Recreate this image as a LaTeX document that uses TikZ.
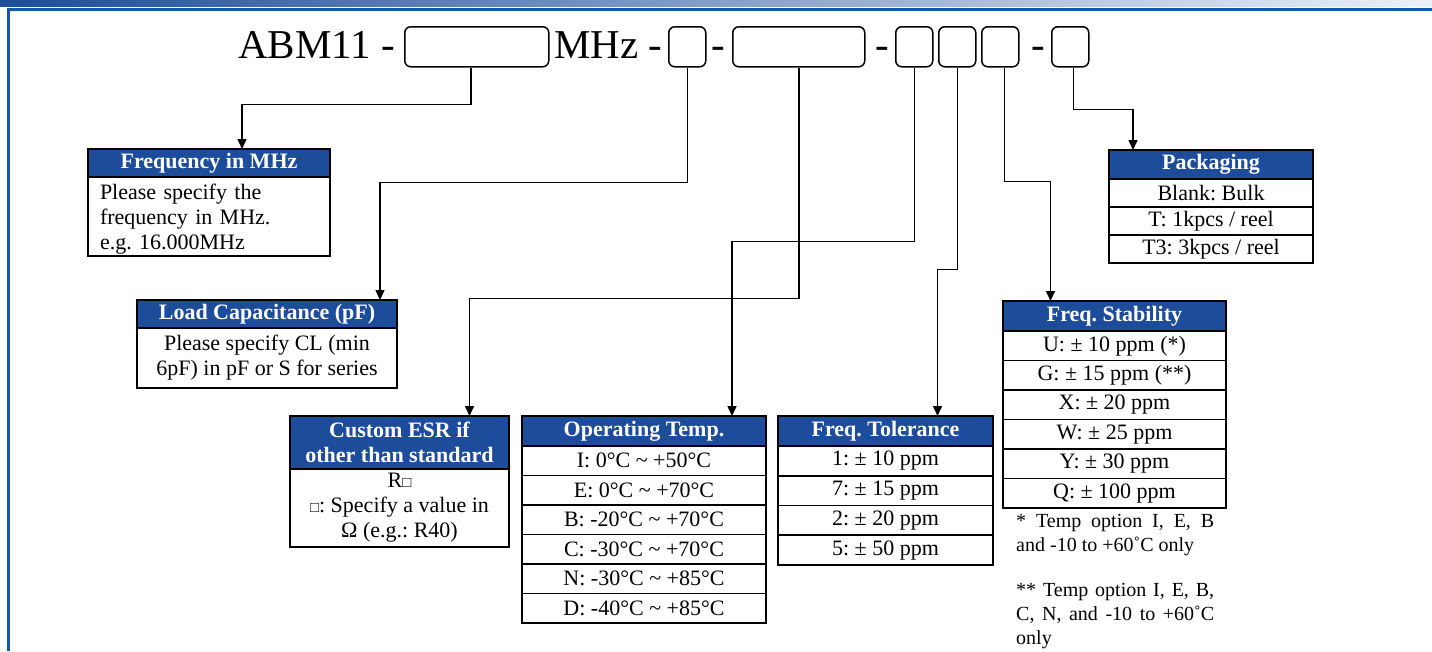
\documentclass[tikz,border=0pt]{standalone}
\usepackage{fontspec}
\setmainfont{Liberation Serif}
\usetikzlibrary{arrows.meta}
\definecolor{hdblue}{RGB}{29,76,154}
\definecolor{ruleblue}{RGB}{22,88,168}
\definecolor{barmid}{RGB}{100,140,198}
\definecolor{barlight}{RGB}{236,241,248}
\newcommand\bodyfnt{\fontsize{22}{25}\selectfont}
\newcommand\hdfnt{\fontsize{22}{25}\selectfont\bfseries}
\newcommand\notefnt{\fontsize{20}{24}\selectfont}
\newcommand\titlefnt{\fontsize{41}{48}\selectfont}
\newcommand\smallbox{{\fontsize{15}{15}\selectfont □}}
\frenchspacing

\begin{document}
\begin{tikzpicture}[x=1pt,y=-1pt,
  codebox/.style={draw,line width=1.5pt,rounded corners=6pt,minimum height=40pt,inner sep=0pt,anchor=north west},
  partnum/.style={font=\titlefnt,inner sep=0pt},
  head/.style={draw,line width=1.8pt,fill=hdblue,text=white,font=\hdfnt,inner sep=0pt,outer sep=0pt,align=center,anchor=north west},
  cell/.style={draw,line width=1.8pt,font=\bodyfnt,inner sep=0pt,outer sep=0pt,align=center,anchor=north west},
  link/.style={line width=1.5pt,-{Triangle[length=10pt,width=9pt]}}]
\useasboundingbox (0,0) rectangle (1432,651);

% Frame
\shade[left color=hdblue,middle color=barmid,right color=barlight] (0,0) rectangle (1432,6.5);
\fill[ruleblue] (7,8) rectangle (1432,11);
\fill[ruleblue] (7,8) rectangle (10,651);

% Part number
\node[partnum,anchor=base west] (abm) at (238,58) {ABM11 -};
\node[codebox,minimum width=144pt] (b1) at (404,26) {};
\node[partnum,anchor=base west] (mhz) at (554,58) {MHz -};
\node[codebox,minimum width=37pt] (b2) at (668,26) {};
\node[partnum,anchor=base] (d1) at (718,58) {-};
\node[codebox,minimum width=132pt] (b3) at (732,26) {};
\node[partnum,anchor=base] (d2) at (882,58) {-};
\node[codebox,minimum width=37pt] (b4) at (895,26) {};
\node[codebox,minimum width=37pt] (b5) at (938,26) {};
\node[codebox,minimum width=37pt] (b6) at (981,26) {};
\node[partnum,anchor=base] (d3) at (1038,58) {-};
\node[codebox,minimum width=37pt] (b7) at (1051,26) {};

% Frequency
\node[head,minimum width=242pt,minimum height=28pt] (fqhd) at (88,149) {Frequency in MHz};
\node[cell,minimum width=242pt,minimum height=79pt,align=left,text width=218pt] (fqbd) at (fqhd.south west) {\rule{0pt}{20pt}Please specify the\\frequency in MHz.\\e.g. 16.000MHz};

% Load capacitance
\node[head,minimum width=260pt,minimum height=28pt] (ldhd) at (137,300) {Load Capacitance (pF)};
\node[cell,minimum width=260pt,minimum height=60pt] (ldbd) at (ldhd.south west) {Please specify CL (min\\6pF) in pF or S for series};

% ESR
\node[head,minimum width=219pt,minimum height=53pt] (esrhd) at (290,416) {Custom ESR if\\other than standard};
\node[cell,minimum width=219pt,minimum height=78pt] (esrbd) at (esrhd.south west) {R\smallbox\\\smallbox: Specify a value in\\Ω (e.g.: R40)};

% Operating temperature
\node[head,minimum width=244pt,minimum height=30pt] (ophd) at (522,416) {Operating Temp.};
\node[cell,minimum width=244pt,minimum height=29.5pt] (op1) at (ophd.south west) {I: 0°C \textasciitilde\ +50°C};
\node[cell,minimum width=244pt,minimum height=29.5pt] (op2) at (op1.south west) {E: 0°C \textasciitilde\ +70°C};
\node[cell,minimum width=244pt,minimum height=29.5pt] (op3) at (op2.south west) {B: -20°C \textasciitilde\ +70°C};
\node[cell,minimum width=244pt,minimum height=29.5pt] (op4) at (op3.south west) {C: -30°C \textasciitilde\ +70°C};
\node[cell,minimum width=244pt,minimum height=29.5pt] (op5) at (op4.south west) {N: -30°C \textasciitilde\ +85°C};
\node[cell,minimum width=244pt,minimum height=29.5pt] (op6) at (op5.south west) {D: -40°C \textasciitilde\ +85°C};

% Frequency tolerance
\node[head,minimum width=215pt,minimum height=30pt] (tolhd) at (778,416) {Freq. Tolerance};
\node[cell,minimum width=215pt,minimum height=29.75pt] (tol1) at (tolhd.south west) {1: ± 10 ppm};
\node[cell,minimum width=215pt,minimum height=29.75pt] (tol2) at (tol1.south west) {7: ± 15 ppm};
\node[cell,minimum width=215pt,minimum height=29.75pt] (tol3) at (tol2.south west) {2: ± 20 ppm};
\node[cell,minimum width=215pt,minimum height=29.75pt] (tol4) at (tol3.south west) {5: ± 50 ppm};

% Frequency stability
\node[head,minimum width=223pt,minimum height=30pt] (stbhd) at (1003,301) {Freq. Stability};
\node[cell,minimum width=223pt,minimum height=29.5pt] (stb1) at (stbhd.south west) {U: ± 10 ppm (*)};
\node[cell,minimum width=223pt,minimum height=29.5pt] (stb2) at (stb1.south west) {G: ± 15 ppm (**)};
\node[cell,minimum width=223pt,minimum height=29.5pt] (stb3) at (stb2.south west) {X: ± 20 ppm};
\node[cell,minimum width=223pt,minimum height=29.5pt] (stb4) at (stb3.south west) {W: ± 25 ppm};
\node[cell,minimum width=223pt,minimum height=29.5pt] (stb5) at (stb4.south west) {Y: ± 30 ppm};
\node[cell,minimum width=223pt,minimum height=29.5pt] (stb6) at (stb5.south west) {Q: ± 100 ppm};
\node[font=\notefnt,text width=198pt,align=justify,inner sep=0pt,anchor=north west] (note1) at (1016,514) {* Temp option I, E, B\linebreak and -10 to +60˚C only};
\node[font=\notefnt,text width=198pt,align=justify,inner sep=0pt,anchor=north west] (note2) at (1016,583) {** Temp option I, E, B,\linebreak C, N, and -10 to +60˚C\linebreak only};

% Packaging
\node[head,minimum width=204pt,minimum height=29pt] (pkhd) at (1109,150) {Packaging};
\node[cell,minimum width=204pt,minimum height=28pt] (pk1) at (pkhd.south west) {Blank: Bulk};
\node[cell,minimum width=204pt,minimum height=28pt] (pk2) at (pk1.south west) {T: 1kpcs / reel};
\node[cell,minimum width=204pt,minimum height=28pt] (pk3) at (pk2.south west) {T3: 3kpcs / reel};

% Connectors
\draw[link] ([xshift=-6pt]b1.south) -- ++(0,37) -| ([xshift=33pt]fqhd.north);
\draw[link] (b2.south) -- ++(0,115) -| ([xshift=113pt]ldhd.north);
\draw[link] (b3.south) -- ++(0,231) -| ([xshift=70pt]esrhd.north);
\draw[link] (b4.south) -- ++(0,174) -| ([xshift=88pt]ophd.north);
\draw[link] (b5.south) -- ++(0,202) -| ([xshift=52pt]tolhd.north);
\draw[link] ([xshift=4pt]b6.south) -- ++(0,114) -| ([xshift=-64pt]stbhd.north);
\draw[link] ([xshift=3pt]b7.south) -- ++(0,42) -| ([xshift=-78pt]pkhd.north);
\end{tikzpicture}
\end{document}
